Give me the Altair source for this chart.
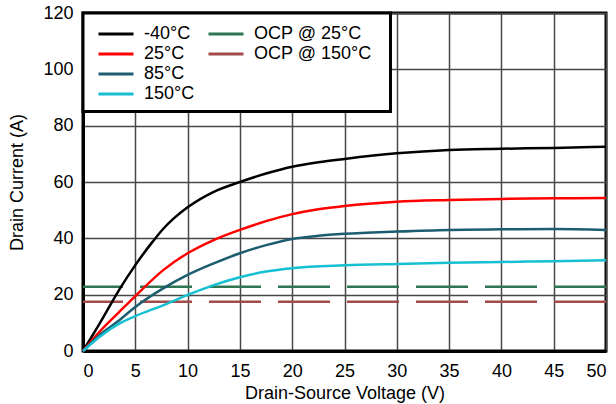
import altair as alt
import pandas as pd

# ---- data ----
v_m40 = [0, 1.6, 3.5, 5, 6.7, 7.7, 8.6, 10, 12.5, 15, 17.5, 20, 22.5, 25, 30, 35, 40, 45, 50]
i_m40 = [0, 9.8, 22.0, 30.5, 39.0, 43.5, 46.8, 51.0, 56.5, 60.0, 63.0, 65.4, 67.0, 68.2, 70.2, 71.4, 71.8, 72.1, 72.5]

v_25 = [0, 1.6, 3.5, 5, 7.7, 10, 12.5, 15, 17.5, 20, 22.5, 25, 30, 35, 40, 45, 50]
i_25 = [0, 6.9, 14.0, 19.5, 28.8, 34.7, 39.4, 43.0, 46.1, 48.6, 50.3, 51.5, 53.0, 53.6, 54.0, 54.2, 54.3]

v_85 = [0, 1.6, 3.5, 5, 7.7, 10, 12.5, 15, 17.5, 20, 22.5, 25, 30, 35, 40, 45, 50]
i_85 = [0, 5.7, 11.0, 15.6, 22.3, 27.0, 31.1, 34.7, 37.6, 39.8, 40.9, 41.6, 42.4, 43.0, 43.2, 43.3, 43.0]

v_150 = [0, 1.6, 3.5, 5, 7.7, 10, 12.5, 15, 17.5, 20, 25, 30, 35, 40, 45, 50]
i_150 = [0, 5.1, 9.8, 12.4, 16.3, 19.9, 23.4, 26.2, 28.2, 29.4, 30.4, 30.9, 31.3, 31.6, 31.9, 32.2]

curve_names = ["-40°C", "25°C", "85°C", "150°C"]
curve_colors = ["#000000", "#ff0000", "#1d5d70", "#16c0d2"]

ocp_names = ["OCP @ 25°C", "OCP @ 150°C"]
ocp_values = [22.8, 17.5]
ocp_colors = ["#2e7552", "#a34a4a"]

x_ticks = [0, 5, 10, 15, 20, 25, 30, 35, 40, 45, 50]
y_ticks = [0, 20, 40, 60, 80, 100, 120]

# ---- build tables ----
rows = []
for name, vs, cs in zip(curve_names, [v_m40, v_25, v_85, v_150], [i_m40, i_25, i_85, i_150]):
    for k, (v, c) in enumerate(zip(vs, cs)):
        rows.append({"series": name, "v": v, "i": c, "order": k})
curves = pd.DataFrame(rows)
ocp = pd.DataFrame({"name": ocp_names, "i": ocp_values})

FONT = "Liberation Sans"

x_enc = alt.X("v:Q", scale=alt.Scale(domain=[0, 50], nice=False),
              axis=alt.Axis(values=x_ticks, title="Drain-Source Voltage (V)",
                            labelPadding=11, titlePadding=4))
y_enc = alt.Y("i:Q", scale=alt.Scale(domain=[0, 120], nice=False),
              axis=alt.Axis(values=y_ticks, title="Drain Current (A)",
                            labelPadding=10, titlePadding=16))

lines = alt.Chart(curves).mark_line(strokeWidth=2.5, interpolate="monotone").encode(
    x=x_enc,
    y=y_enc,
    order="order:Q",
    color=alt.Color("series:N", scale=alt.Scale(domain=curve_names, range=curve_colors),
                    legend=alt.Legend(title=None, orient="none", legendX=14, legendY=12,
                                      direction="vertical")),
)

ocp_rules = alt.Chart(ocp).mark_rule(strokeWidth=2.5, strokeDash=[52, 17]).encode(
    y=alt.Y("i:Q", scale=alt.Scale(domain=[0, 120], nice=False)),
    color=alt.Color("name:N", scale=alt.Scale(domain=ocp_names, range=ocp_colors),
                    legend=alt.Legend(title=None, orient="none", legendX=124, legendY=12,
                                      direction="vertical")),
)

box = alt.Chart(alt.Data(values=[{"a": 1}])).mark_rect(
    fill="white", stroke="black", strokeWidth=3
).encode(x=alt.value(0), x2=alt.value(307.5), y=alt.value(0), y2=alt.value(98.5))

chart = alt.layer(ocp_rules, lines, box).resolve_scale(color="independent").properties(
    width=523, height=338,
    autosize=alt.AutoSizeParams(type="none"),
    padding={"left": 83, "top": 13, "right": 10, "bottom": 53},
).configure_view(
    stroke="black", strokeWidth=3
).configure_axis(
    grid=True, gridColor="#474747", gridWidth=1.5, gridOpacity=1,
    ticks=False, domain=True, domainColor="black", domainWidth=3,
    labelFont=FONT, labelFontSize=18, labelColor="black",
    titleFont=FONT, titleFontSize=18, titleFontWeight="normal", titleColor="black",
).configure_legend(
    labelFont=FONT, labelFontSize=18, labelColor="black",
    symbolType="stroke", symbolSize=1225, symbolStrokeWidth=3,
    labelOffset=9, rowPadding=2, padding=0, clipHeight=18,
)

chart.save("out.html", embed_options={"renderer": "svg", "actions": False})
